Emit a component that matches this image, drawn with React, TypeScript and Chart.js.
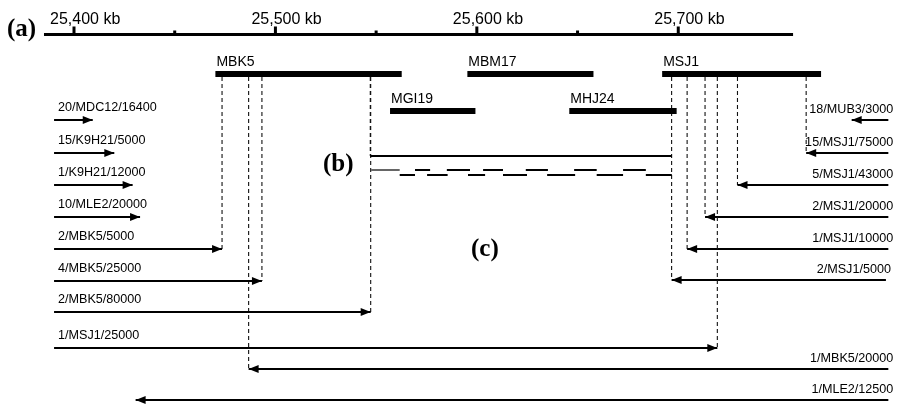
import React, { useEffect, useRef } from "react";
import { Chart, registerables } from "chart.js";

Chart.register(...registerables);

// ---- (a) physical scale, in kb ----
const majorTicks = [25400, 25500, 25600, 25700];
const minorTicks = [25450, 25550, 25650];
const tickLabels = ["25,400 kb", "25,500 kb", "25,600 kb", "25,700 kb"];
const axisRange = [25385.1, 25757.0];
const axisRow = 34.5;

// ---- BAC / P1 clones (kb) ----
const cloneNames = ["MBK5", "MBM17", "MSJ1", "MGI19", "MHJ24"];
const cloneStart = [25470.2, 25595.3, 25692.0, 25556.9, 25645.9];
const cloneEnd = [25562.7, 25657.9, 25770.9, 25599.3, 25699.2];
const cloneRow = [74, 74, 74, 111, 111];

// ---- (b) contig lines (kb) ----
const contigSpan = [25547.1, 25696.8];
const contigRow = 156;
const upperSegStart = [25547.5, 25569.3, 25585.1, 25603.1, 25624.3, 25648.3, 25672.6];
const upperSegEnd = [25561.7, 25576.8, 25596.6, 25613.0, 25635.3, 25659.5, 25683.9];
const lowerSegStart = [25561.7, 25575.3, 25595.6, 25613.0, 25634.9, 25659.5, 25683.9];
const lowerSegEnd = [25569.3, 25585.5, 25604.1, 25624.9, 25648.8, 25672.6, 25696.8];
const upperSegRow = 170;
const lowerSegRow = 175;

// ---- (c) end-sequence walks (kb) ----
const arrowLabels = [
  "20/MDC12/16400", "15/K9H21/5000", "1/K9H21/12000", "10/MLE2/20000",
  "2/MBK5/5000", "4/MBK5/25000", "2/MBK5/80000", "1/MSJ1/25000",
  "18/MUB3/3000", "15/MSJ1/75000", "5/MSJ1/43000", "2/MSJ1/20000",
  "1/MSJ1/10000", "2/MSJ1/5000", "1/MBK5/20000", "1/MLE2/12500",
];
const arrowTail = [
  25390.1, 25390.1, 25390.1, 25390.1, 25390.1, 25390.1, 25390.1, 25390.1,
  25804.3, 25804.3, 25804.3, 25804.3, 25804.3, 25803.1, 25804.3, 25804.3,
];
const arrowTip = [
  25409.3, 25420.0, 25429.1, 25432.8, 25473.5, 25493.3, 25547.3, 25719.4,
  25786.1, 25763.5, 25729.4, 25713.3, 25704.4, 25696.7, 25486.7, 25430.6,
];
const arrowRow = [120, 153, 185, 217, 249, 281, 312, 348, 120, 153, 185, 217, 249, 280, 369, 400];
const arrowGuide = [
  false, false, false, false, true, true, true, true,
  false, true, true, true, true, true, true, false,
];
const guideTopRow = 77;

const W = 897;
const H = 404;
const X_MIN = 25363.26;
const X_MAX = 25808.6;

const SANS = '"Liberation Sans", Arial, sans-serif';
const SERIF = '"Liberation Serif", "Times New Roman", serif';

function seg(x0: number, x1: number, y: number, width: number, color = "#000", dash: number[] = []) {
  return {
    type: "line" as const,
    data: [
      { x: x0, y },
      { x: x1, y },
    ],
    borderColor: color,
    borderWidth: width,
    borderDash: dash,
    pointRadius: 0,
    showLine: true,
    fill: false,
    tension: 0,
    borderCapStyle: "butt" as const,
  };
}

function vseg(x: number, y0: number, y1: number) {
  return {
    type: "line" as const,
    data: [
      { x, y: y0 },
      { x, y: y1 },
    ],
    borderColor: "#111",
    borderWidth: 1.1,
    borderDash: [4, 3],
    pointRadius: 0,
    showLine: true,
    fill: false,
    tension: 0,
  };
}

const annotations = {
  id: "mapAnnotations",
  afterDatasetsDraw(chart: any) {
    const { ctx } = chart;
    const xs = chart.scales.x;
    const ys = chart.scales.y;
    const px = (v: number) => xs.getPixelForValue(v);
    const py = (v: number) => ys.getPixelForValue(v);
    ctx.save();
    ctx.fillStyle = "#000";

    // axis ticks
    const ay = py(axisRow);
    majorTicks.forEach((t) => ctx.fillRect(px(t) - 1.5, ay - 8, 3, 8));
    minorTicks.forEach((t) => ctx.fillRect(px(t) - 1.5, ay - 4, 3, 4));
    ctx.font = `16px ${SANS}`;
    ctx.textAlign = "left";
    ctx.textBaseline = "alphabetic";
    majorTicks.forEach((t, i) => ctx.fillText(tickLabels[i], px(t) - 24, 24));

    // clone labels
    ctx.font = `14px ${SANS}`;
    cloneNames.forEach((n, i) => ctx.fillText(n, px(cloneStart[i]) + 1, py(cloneRow[i]) - 8));

    // arrows
    ctx.font = `12.6px ${SANS}`;
    arrowLabels.forEach((lab, i) => {
      const tx = px(arrowTip[i]);
      const tl = px(arrowTail[i]);
      const y = py(arrowRow[i]);
      const dir = tx > tl ? 1 : -1;
      ctx.beginPath();
      ctx.moveTo(tx, y);
      ctx.lineTo(tx - dir * 10, y - 4);
      ctx.lineTo(tx - dir * 10, y + 4);
      ctx.closePath();
      ctx.fill();
      if (dir > 0) {
        ctx.textAlign = "left";
        ctx.fillText(lab, tl + 4, y - 9);
      } else {
        ctx.textAlign = "right";
        ctx.fillText(lab, tl + 5, y - 7);
      }
    });

    // panel letters
    ctx.textAlign = "left";
    ctx.font = `bold 25px ${SERIF}`;
    ctx.fillText("(a)", 7, 36);
    ctx.fillText("(b)", 323, 171);
    ctx.fillText("(c)", 471, 256);
    ctx.restore();
  },
};

export default function App() {
  const ref = useRef<HTMLCanvasElement | null>(null);

  useEffect(() => {
    if (!ref.current) return;
    const datasets: any[] = [];
    datasets.push(seg(axisRange[0], axisRange[1], axisRow, 3));
    cloneNames.forEach((_, i) => datasets.push(seg(cloneStart[i], cloneEnd[i], cloneRow[i], 6)));
    datasets.push(seg(contigSpan[0], contigSpan[1], contigRow, 2));
    upperSegStart.forEach((s, i) => datasets.push(seg(s, upperSegEnd[i], upperSegRow, 2, i === 0 ? "#666" : "#000")));
    lowerSegStart.forEach((s, i) => datasets.push(seg(s, lowerSegEnd[i], lowerSegRow, 2)));
    arrowLabels.forEach((_, i) => {
      datasets.push(seg(arrowTail[i], arrowTip[i], arrowRow[i], 2));
      if (arrowGuide[i]) datasets.push(vseg(arrowTip[i], guideTopRow, arrowRow[i]));
    });
    // contig left boundary guide
    datasets.push(vseg(contigSpan[0], guideTopRow, contigRow));

    const chart = new Chart(ref.current, {
      type: "scatter",
      data: { datasets },
      options: {
        animation: false,
        responsive: false,
        maintainAspectRatio: false,
        events: [],
        layout: { padding: 0, autoPadding: false },
        plugins: { legend: { display: false }, tooltip: { enabled: false } },
        scales: {
          x: { type: "linear", min: X_MIN, max: X_MAX, display: false },
          y: { type: "linear", min: 0, max: H, reverse: true, display: false },
        },
      },
      plugins: [annotations],
    });
    return () => chart.destroy();
  }, []);

  return (
    <div style={{ position: "fixed", left: 0, top: 0, width: W, height: H, background: "#fff" }}>
      <canvas ref={ref} width={W} height={H} style={{ display: "block", width: W, height: H }} />
    </div>
  );
}
